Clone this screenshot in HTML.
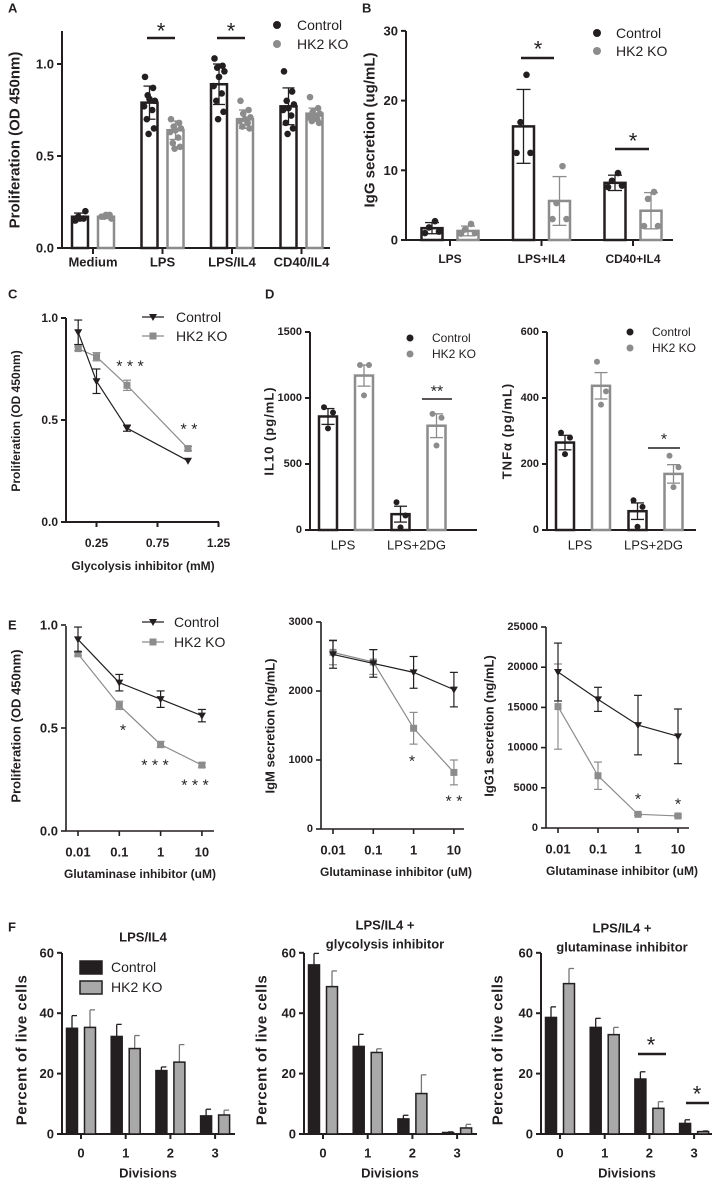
<!DOCTYPE html>
<html><head><meta charset="utf-8"><style>
html,body{margin:0;padding:0;background:#fff;}
svg{display:block;font-family:"Liberation Sans",sans-serif;}
</style></head><body>
<svg id="fig" width="712" height="1179" viewBox="0 0 712 1179"></svg>
<script>
// ---------- DATA ----------
// Panel A
const aCats=['Medium','LPS','LPS/IL4','CD40/IL4'];
const aCtrlMean=[0.17,0.79,0.89,0.77];
const aKoMean=[0.17,0.64,0.70,0.73];
const aCtrlSD=[0.02,0.09,0.11,0.10];
const aKoSD=[0.01,0.05,0.05,0.03];
const aCtrlPts=[[0.15,0.16,0.17,0.20,0.16,0.15],[0.93,0.87,0.83,0.80,0.81,0.77,0.75,0.70,0.65,0.62],[1.03,0.99,0.98,0.96,0.93,0.88,0.84,0.80,0.74,0.70],[0.96,0.85,0.80,0.78,0.76,0.75,0.72,0.68,0.65,0.62]];
const aKoPts=[[0.17,0.18,0.17,0.16,0.18],[0.70,0.68,0.66,0.65,0.64,0.63,0.60,0.57,0.55,0.54],[0.80,0.75,0.73,0.71,0.70,0.69,0.68,0.66,0.65],[0.82,0.76,0.74,0.73,0.72,0.71,0.70,0.69,0.68]];
const aTicks=[0,0.5,1.0];
const aTickLabels=['0.0','0.5','1.0'];
// Panel B
const bCats=['LPS','LPS+IL4','CD40+IL4'];
const bCtrlMean=[1.7,16.3,8.2];
const bKoMean=[1.3,5.6,4.2];
const bCtrlSD=[0.8,5.3,1.1];
const bKoSD=[0.7,3.5,2.6];
const bCtrlPts=[[2.7,1.8,1.0,1.2],[23.7,16.9,12.5,12.5],[9.6,8.5,7.6,7.8]];
const bKoPts=[[2.3,1.5,0.9,1.0],[10.6,5.3,3.0,3.0],[6.9,5.9,2.0,2.0]];
const bTicks=[0,10,20,30];
// Panel C
const cDoses=[0.1,0.25,0.5,1.0];
const cCtrl=[0.93,0.69,0.46,0.30];
const cCtrlErr=[0.06,0.06,0.015,0.005];
const cKo=[0.85,0.81,0.67,0.36];
const cKoErr=[0.01,0.02,0.025,0.01];
const cXTicks=[0.25,0.75,1.25];
const cYTicks=[0,0.5,1.0];
const cYLabels=['0.0','0.5','1.0'];
// Panel D
const dCats=['LPS','LPS+2DG'];
const il10Ctrl=[860,120];
const il10Ko=[1170,790];
const il10CtrlSem=[60,60];
const il10KoSem=[80,90];
const il10CtrlPts=[[930,890,770],[210,110,20]];
const il10KoPts=[[1250,1250,1020],[880,850,640]];
const il10Ticks=[0,500,1000,1500];
const tnfCtrl=[265,57];
const tnfKo=[437,170];
const tnfCtrlSem=[22,25];
const tnfKoSem=[40,28];
const tnfCtrlPts=[[295,280,230],[90,70,10]];
const tnfKoPts=[[510,420,380],[225,190,130]];
const tnfTicks=[0,200,400,600];
// Panel E
const eDoses=[0.01,0.1,1,10];
const eDoseLabels=['0.01','0.1','1','10'];
const eProCtrl=[0.93,0.72,0.64,0.56];
const eProCtrlErr=[0.06,0.04,0.04,0.03];
const eProKo=[0.86,0.61,0.42,0.32];
const eProKoErr=[0.01,0.02,0.015,0.01];
const eIgmCtrl=[2530,2400,2270,2020];
const eIgmCtrlErr=[200,200,230,250];
const eIgmKo=[2560,2420,1460,820];
const eIgmKoErr=[180,180,230,180];
const eIggCtrl=[19400,16000,12800,11400];
const eIggCtrlErr=[3600,1500,3700,3400];
const eIggKo=[15100,6500,1700,1500];
const eIggKoErr=[5300,1700,150,150];
const eProTicks=[0,0.5,1.0];
const eProLabels=['0.0','0.5','1.0'];
const eIgmTicks=[0,1000,2000,3000];
const eIggTicks=[0,5000,10000,15000,20000,25000];
// Panel F
const fCats=['0','1','2','3'];
const f1Ctrl=[35,32.3,21,6];
const f1CtrlErr=[4.2,4,1.2,2.2];
const f1Ko=[35.3,28.3,23.8,6.3];
const f1KoErr=[5.8,4.3,5.8,1.6];
const f2Ctrl=[56,29,5,0.5];
const f2CtrlErr=[3.8,4,1.2,0.2];
const f2Ko=[48.8,27,13.4,2];
const f2KoErr=[5.2,1.2,6.2,1.2];
const f3Ctrl=[38.6,35.3,18.2,3.5];
const f3CtrlErr=[3.5,3,2.4,1.2];
const f3Ko=[49.8,32.9,8.5,0.8];
const f3KoErr=[5,2.4,2.2,0.3];
const fTicks=[0,20,40,60];

// ---------- HELPERS ----------
const NS='http://www.w3.org/2000/svg';
const svg=document.getElementById('fig');
const DARK='#231f20', GRAY='#8c8c8c';
function mk(tag,a,name){
  const e=document.createElementNS(NS,tag);
  for(const k in a) e.setAttribute(k,a[k]);
  
  
  svg.appendChild(e); return e;
}
function T(x,y,s,sz,w,anch,name,rot,extra){
  const a={x:x,y:y,'font-size':sz,'font-weight':w,'text-anchor':anch,'dominant-baseline':'central',fill:DARK};
  if(rot) a.transform='rotate(-90 '+x+' '+y+')';
  if(extra) for(const k in extra) a[k]=extra[k];
  const e=mk('text',a,name); e.textContent=s; return e;
}
function L(x1,y1,x2,y2,c,w,name){return mk('line',{x1:x1,y1:y1,x2:x2,y2:y2,stroke:c,'stroke-width':w},name);}
function errBar(x,yLo,yHi,cap,c,w,name){
  L(x,yLo,x,yHi,c,w,name);
  L(x-cap/2,yHi,x+cap/2,yHi,c,w,name+'-cap-top');
  L(x-cap/2,yLo,x+cap/2,yLo,c,w,name+'-cap-bottom');
}
function yAxis(x,yTop,yBot,ticks,labels,ys,sz,w,name){
  L(x,yTop,x,yBot,DARK,w,name+'-line');
  ticks.forEach((t,i)=>{
    L(x-5,ys(t),x,ys(t),DARK,w,name+'-tick');
    T(x-8,ys(t),labels[i],sz,'bold','end',name+'-tick-label');
  });
}
function tri(x,y,c,name){return mk('polygon',{points:(x-4)+','+(y-3)+' '+(x+4)+','+(y-3)+' '+x+','+(y+4),fill:c},name);}
function sq(x,y,c,name){return mk('rect',{x:x-3.5,y:y-3.5,width:7,height:7,fill:c},name);}
function star(x,y,s,sz,name){return T(x,y+4,s,sz,'normal','middle',name);}
const jit=[-5,4,-2,6,0,-6,3,-3,5,-1];

// ---------- PANEL LABELS ----------
T(8,8,'A',13,'bold','start','panel-label-a');
T(362,8,'B',13,'bold','start','panel-label-b');
T(8,294,'C',13,'bold','start','panel-label-c');
T(265,294,'D',13,'bold','start','panel-label-d');
T(8,625,'E',13,'bold','start','panel-label-e');
T(8,927,'F',13,'bold','start','panel-label-f');

// ---------- PANEL A ----------
(function(){
  const ys=v=>248-v*184, cx=i=>93+i*69.5;
  yAxis(62,31,248,aTicks,aTickLabels,ys,13,2,'a-y-axis');
  L(62,248,330,248,DARK,2,'a-x-axis');
  T(15,140,'Proliferation (OD 450nm)',15,'bold','middle','a-y-axis-title',true);
  aCats.forEach((c,i)=>{
    const x=cx(i);
    L(x,248,x,254,DARK,2,'a-x-tick');
    T(x,262,c,13,'bold','middle','a-x-label');
    [[aCtrlMean,aCtrlSD,aCtrlPts,DARK,-13,'control'],[aKoMean,aKoSD,aKoPts,GRAY,13,'hk2ko']].forEach(s=>{
      const bx=x+s[4], m=s[0][i];
      mk('rect',{x:bx-8,y:ys(m),width:16,height:248-ys(m),fill:'#fff',stroke:s[3],'stroke-width':2.5},'a-bar-'+s[5]);
      s[2][i].forEach((p,j)=>mk('circle',{cx:bx+jit[j%10]*0.9,cy:ys(p),r:3.3,fill:s[3]},'a-point-'+s[5]));
      errBar(bx,ys(m-s[1][i]),ys(m+s[1][i]),12,s[3],1.3,'a-error-'+s[5]);
    });
  });
  star(161,27,'*',22,'a-sig-star-lps'); L(147,38,175,38,DARK,2.5,'a-sig-line-lps');
  star(231,27,'*',22,'a-sig-star-lpsil4'); L(217,38,245,38,DARK,2.5,'a-sig-line-lpsil4');
  mk('circle',{cx:277,cy:25,r:4,fill:DARK},'a-legend-marker-control');
  T(297,25,'Control',14,'normal','start','a-legend-control');
  mk('circle',{cx:277,cy:44,r:4,fill:GRAY},'a-legend-marker-hk2ko');
  T(297,44,'HK2 KO',14,'normal','start','a-legend-hk2ko');
})();

// ---------- PANEL B ----------
(function(){
  const ys=v=>240-v*6.97, cx=i=>450+i*91.5;
  yAxis(406,31,240,bTicks,bTicks.map(String),ys,13,2,'b-y-axis');
  L(406,240,673,240,DARK,2,'b-x-axis');
  T(370,130,'IgG secretion (ug/mL)',15,'bold','middle','b-y-axis-title',true);
  bCats.forEach((c,i)=>{
    const x=cx(i);
    L(x,240,x,246,DARK,2,'b-x-tick');
    T(x,259,c,12,'bold','middle','b-x-label');
    [[bCtrlMean,bCtrlSD,bCtrlPts,DARK,-18,'control'],[bKoMean,bKoSD,bKoPts,GRAY,18,'hk2ko']].forEach(s=>{
      const bx=x+s[4], m=s[0][i];
      mk('rect',{x:bx-10.5,y:ys(m),width:21,height:240-ys(m),fill:'#fff',stroke:s[3],'stroke-width':2.5},'b-bar-'+s[5]);
      const off=[3,-3,-7,7];
      s[2][i].forEach((p,j)=>mk('circle',{cx:bx+off[j],cy:ys(p),r:3.3,fill:s[3]},'b-point-'+s[5]));
      errBar(bx,ys(Math.max(0,m-s[1][i])),ys(m+s[1][i]),14,s[3],1.3,'b-error-'+s[5]);
    });
  });
  star(538,45,'*',22,'b-sig-star-lpsil4'); L(521,58,554,58,DARK,2.5,'b-sig-line-lpsil4');
  star(633,137,'*',22,'b-sig-star-cd40il4'); L(615,149,649,149,DARK,2.5,'b-sig-line-cd40il4');
  mk('circle',{cx:597,cy:33,r:4,fill:DARK},'b-legend-marker-control');
  T(616,33,'Control',14,'normal','start','b-legend-control');
  mk('circle',{cx:597,cy:51,r:4,fill:GRAY},'b-legend-marker-hk2ko');
  T(616,51,'HK2 KO',14,'normal','start','b-legend-hk2ko');
})();

// ---------- PANEL C ----------
(function(){
  const ys=v=>522-v*204, xs=v=>66+v*122;
  yAxis(66,318,522,cYTicks,cYLabels,ys,12,2,'c-y-axis');
  L(66,522,219,522,DARK,2,'c-x-axis');
  cXTicks.forEach(t=>{L(xs(t),522,xs(t),527,DARK,2,'c-x-tick');T(xs(t),543,String(t),12,'bold','middle','c-x-label');});
  T(143,566,'Glycolysis inhibitor (mM)',12,'bold','middle','c-x-axis-title');
  T(16,421,'Proliferation (OD 450nm)',12,'bold','middle','c-y-axis-title',true);
  [[cKo,cKoErr,GRAY,'hk2ko',sq],[cCtrl,cCtrlErr,DARK,'control',tri]].forEach(s=>{
    mk('polyline',{points:cDoses.map((d,i)=>xs(d)+','+ys(s[0][i])).join(' '),fill:'none',stroke:s[2],'stroke-width':1.2},'c-line-'+s[3]);
    cDoses.forEach((d,i)=>{
      if(s[1][i]>0.008) errBar(xs(d),ys(s[0][i]-s[1][i]),ys(s[0][i]+s[1][i]),8,s[2],1.2,'c-error-'+s[3]);
      s[4](xs(d),ys(s[0][i]),s[2],'c-point-'+s[3]);
    });
  });
  star(130,363,'* * *',16,'c-sig-050');
  star(189,426,'* *',16,'c-sig-100');
  L(142,317,164,317,DARK,1.2,'c-legend-line-control'); tri(153,317,DARK,'c-legend-marker-control');
  T(176,317,'Control',14,'normal','start','c-legend-control');
  L(142,336,164,336,GRAY,1.2,'c-legend-line-hk2ko'); sq(153,336,GRAY,'c-legend-marker-hk2ko');
  T(176,336,'HK2 KO',14,'normal','start','c-legend-hk2ko');
})();

// ---------- PANEL D ----------
function dPanel(p,ax,xEnd,ys,ticks,ctrl,ko,cSem,kSem,cPts,kPts,ylab,ylx,legX,legY,sig){
  yAxis(ax,332,530,ticks,ticks.map(String),ys,11,2,p+'-y-axis');
  L(ax,530,xEnd,530,DARK,2,p+'-x-axis');
  T(ylx,431,ylab,13,'bold','middle',p+'-y-axis-title',true,{'letter-spacing':'1'});
  dCats.forEach((c,i)=>{
    const gx=ax+36+i*72.5;
    T(gx-(i?2:3),545,c,13,'normal','middle',p+'-x-label');
    [[ctrl,cSem,cPts,DARK,-18,'control'],[ko,kSem,kPts,GRAY,18,'hk2ko']].forEach(s=>{
      const bx=gx+s[4], m=s[0][i];
      mk('rect',{x:bx-9,y:ys(m),width:18,height:530-ys(m),fill:'#fff',stroke:s[3],'stroke-width':2.5},p+'-bar-'+s[5]);
      const off=[-4,5,0];
      s[2][i].forEach((v,j)=>mk('circle',{cx:bx+off[j],cy:ys(v),r:3,fill:s[3]},p+'-point-'+s[5]));
      errBar(bx,ys(m-s[1][i]),ys(m+s[1][i]),13,s[3],1.3,p+'-error-'+s[5]);
    });
  });
  mk('circle',{cx:legX,cy:legY,r:3.5,fill:DARK},p+'-legend-marker-control');
  T(legX+22,legY,'Control',12,'normal','start',p+'-legend-control');
  mk('circle',{cx:legX,cy:legY+16,r:3.5,fill:GRAY},p+'-legend-marker-hk2ko');
  T(legX+22,legY+16,'HK2 KO',12,'normal','start',p+'-legend-hk2ko');
  star(sig[0],sig[1],sig[2],16,p+'-sig-star');
  L(sig[3],sig[4],sig[5],sig[4],DARK,1.5,p+'-sig-line');
}
dPanel('d-il10',310,477,v=>530-v*0.132,il10Ticks,il10Ctrl,il10Ko,il10CtrlSem,il10KoSem,il10CtrlPts,il10KoPts,'IL10 (pg/mL)',269,410,338,[437,388,'**',422,399,452]);
dPanel('d-tnf',547,696,v=>530-v*0.33,tnfTicks,tnfCtrl,tnfKo,tnfCtrlSem,tnfKoSem,tnfCtrlPts,tnfKoPts,'TNFα (pg/mL)',507,630,332,[664,436,'*',648,448,680]);

// ---------- PANEL E ----------
function ePanel(p,ax,xEnd,y0,yTop,ys,x0,step,ticks,labels,ctrl,cErr,ko,kErr,ylab,ylx,titleX,sigs,tsz){
  yAxis(ax,yTop,y0,ticks,labels,ys,tsz,1.6,p+'-y-axis');
  L(ax,y0,xEnd,y0,DARK,1.6,p+'-x-axis');
  const xs=d=>x0+(Math.log10(d)+2)*step;
  eDoses.forEach((d,i)=>{L(xs(d),y0,xs(d),y0+5,DARK,1.6,p+'-x-tick');T(xs(d),y0+21,eDoseLabels[i],13,'bold','middle',p+'-x-label');});
  T(titleX,y0+43,'Glutaminase inhibitor (uM)',12,'bold','middle',p+'-x-axis-title');
  T(ylx,726,ylab,13,'bold','middle',p+'-y-axis-title',true);
  [[ko,kErr,GRAY,'hk2ko',sq],[ctrl,cErr,DARK,'control',tri]].forEach(s=>{
    mk('polyline',{points:eDoses.map((d,i)=>xs(d)+','+ys(s[0][i])).join(' '),fill:'none',stroke:s[2],'stroke-width':1.2},p+'-line-'+s[3]);
    eDoses.forEach((d,i)=>{
      errBar(xs(d),ys(s[0][i]-s[1][i]),ys(s[0][i]+s[1][i]),8,s[2],1.2,p+'-error-'+s[3]);
      s[4](xs(d),ys(s[0][i]),s[2],p+'-point-'+s[3]);
    });
  });
  sigs.forEach(g=>star(g[0],g[1],g[2],16,p+'-sig-star'));
}
ePanel('e-prolif',66,214,831,626,v=>831-v*206,78,41.3,eProTicks,eProLabels,eProCtrl,eProCtrlErr,eProKo,eProKoErr,'Proliferation (OD 450nm)',16,140,[[123,727,'*'],[155,762,'* * *'],[195,782,'* * *']],13);
ePanel('e-igm',321,464,829,622,v=>829-v*0.069,333,40.3,eIgmTicks,eIgmTicks.map(String),eIgmCtrl,eIgmCtrlErr,eIgmKo,eIgmKoErr,'IgM secretion (ng/mL)',270,396,[[412,758,'*'],[454,798,'* *']],11);
ePanel('e-igg1',546,689,828,627,v=>828-v*0.00804,558,40,eIggTicks,eIggTicks.map(String),eIggCtrl,eIggCtrlErr,eIggKo,eIggKoErr,'IgG1 secretion (ng/mL)',489,622,[[638,796,'*'],[678,801,'*']],11);
L(142,622,164,622,DARK,1.2,'e-legend-line-control'); tri(153,622,DARK,'e-legend-marker-control');
T(174,622,'Control',14,'normal','start','e-legend-control');
L(142,642,164,642,GRAY,1.2,'e-legend-line-hk2ko'); sq(153,642,GRAY,'e-legend-marker-hk2ko');
T(174,642,'HK2 KO',14,'normal','start','e-legend-hk2ko');

// ---------- PANEL F ----------
function fPanel(p,ax,c0,ctrl,cErr,ko,kErr,ylx,titles){
  const ys=v=>1134-v*3.02, cx=i=>c0+i*44.7;
  yAxis(ax,953,1134,fTicks,fTicks.map(String),ys,13,2,p+'-y-axis');
  L(ax,1134,ax+173,1134,DARK,2,p+'-x-axis');
  T(ylx,1050,'Percent of live cells',15,'bold','middle',p+'-y-axis-title',true,{'letter-spacing':'0.5'});
  T(c0+67,1173,'Divisions',13,'bold','middle',p+'-x-axis-title');
  titles.forEach(t=>T(c0+62,t[1],t[0],13,'bold','middle',p+'-title'));
  fCats.forEach((c,i)=>{
    const x=cx(i);
    L(x,1134,x,1139,DARK,2,p+'-x-tick');
    T(x,1153,c,13,'bold','middle',p+'-x-label');
    [[ctrl,cErr,DARK,-9,'control'],[ko,kErr,'#a9a9a9',9,'hk2ko']].forEach(s=>{
      const bx=x+s[3], m=s[0][i];
      const ec=s[4]==='control'?DARK:'#777';
      L(bx,ys(m),bx,ys(m+s[1][i]),ec,1.3,p+'-error-'+s[4]);
      L(bx,ys(m+s[1][i]),bx+5,ys(m+s[1][i]),ec,1.3,p+'-error-cap-'+s[4]);
      mk('rect',{x:bx-5.5,y:ys(m),width:11,height:1134-ys(m),fill:s[2],stroke:DARK,'stroke-width':1.5},p+'-bar-'+s[4]);
    });
  });
}
fPanel('f-lpsil4',62,81,f1Ctrl,f1CtrlErr,f1Ko,f1KoErr,22,[['LPS/IL4',937]]);
fPanel('f-glycolysis',304,323,f2Ctrl,f2CtrlErr,f2Ko,f2KoErr,262,[['LPS/IL4 +',925],['glycolysis inhibitor',944]]);
fPanel('f-glutaminase',541,560,f3Ctrl,f3CtrlErr,f3Ko,f3KoErr,498,[['LPS/IL4 +',928],['glutaminase inhibitor',947]]);
mk('rect',{x:80,y:961,width:22,height:13,fill:DARK,stroke:DARK,'stroke-width':1.5},'f-legend-box-control');
T(111,967,'Control',14,'normal','start','f-legend-control');
mk('rect',{x:80,y:981,width:22,height:13,fill:'#a9a9a9',stroke:DARK,'stroke-width':1.5},'f-legend-box-hk2ko');
T(111,987,'HK2 KO',14,'normal','start','f-legend-hk2ko');
star(651,1041,'*',22,'f-sig-star-div2'); L(638,1054,666,1054,DARK,2.5,'f-sig-line-div2');
star(697,1090,'*',22,'f-sig-star-div3'); L(686,1103,709,1103,DARK,2.5,'f-sig-line-div3');
</script>
</body></html>
